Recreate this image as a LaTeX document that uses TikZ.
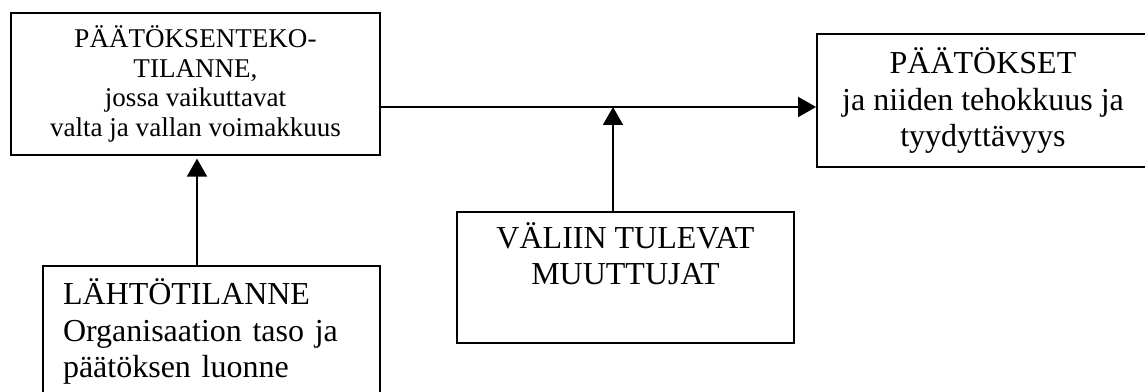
\documentclass[tikz,border=0pt]{standalone}
\usepackage{fontspec}
\setmainfont{Liberation Serif}
\usetikzlibrary{arrows.meta}
\begin{document}
\begin{tikzpicture}[x=0.75pt,y=-0.75pt,
  box/.style={draw, line width=1.4pt, rectangle, inner sep=0pt, align=center},
  smalltxt/.style={font=\fontsize{20.3}{22.1}\selectfont},
  bigtxt/.style={font=\fontsize{24}{27.5}\selectfont},
  arr/.style={line width=1.3pt, -{Triangle[length=13.5pt,width=15pt]}}]
\useasboundingbox (0,0) rectangle (1145,392);

% decision situation
\node[box, smalltxt, minimum width=276.75pt, minimum height=106.5pt] (tilanne) at (195.5,84)
  {PÄÄTÖKSENTEKO-\\TILANNE,\\jossa vaikuttavat\\valta ja vallan voimakkuus};

% decisions
\node[box, bigtxt, minimum width=249pt, minimum height=99.75pt] (paatokset) at (983,100.5)
  {PÄÄTÖKSET\\ja niiden tehokkuus ja\\tyydyttävyys};

% starting situation
\node[box, bigtxt, align=left, inner xsep=15pt, text width=222.75pt, minimum height=98.25pt] (lahto) at (211.5,331.5)
  {LÄHTÖTILANNE\\Organisaation taso ja\\päätöksen luonne};

% intervening variables
\node[box, minimum width=252.75pt, minimum height=98.25pt] (valiin) at (625.5,277.5) {};
\node[bigtxt, align=center, anchor=north, inner sep=0pt] (valiintxt) at ([yshift=-8.25pt]valiin.north)
  {VÄLIIN TULEVAT\\MUUTTUJAT};

% connectors
\coordinate (main) at (613,107);
\coordinate (left) at (197,200);
\draw[arr] (tilanne.east |- main) -- (paatokset.west |- main);
\draw[arr] (valiin.north -| main) -- (main);
\draw[arr] (lahto.north -| left) -- ([yshift=-2pt]tilanne.south -| left);
\end{tikzpicture}
\end{document}
